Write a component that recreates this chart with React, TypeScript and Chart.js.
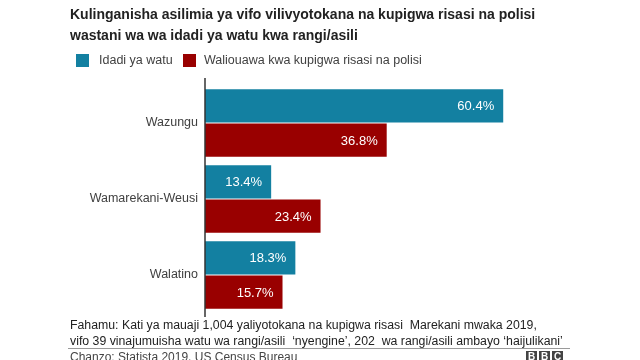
import React, { useEffect, useRef } from "react";
import { Chart, registerables } from "chart.js";

Chart.register(...registerables);

const categories = ["Wazungu", "Wamarekani-Weusi", "Walatino"];
const populationShare = [60.4, 13.4, 18.3];
const policeKillingsShare = [36.8, 23.4, 15.7];
const seriesNames = ["Idadi ya watu", "Waliouawa kwa kupigwa risasi na polisi"];
const titleLines = [
  "Kulinganisha asilimia ya vifo vilivyotokana na kupigwa risasi na polisi",
  "wastani wa wa idadi ya watu kwa rangi/asili",
];
const noteLines = [
  "Fahamu: Kati ya mauaji 1,004 yaliyotokana na kupigwa risasi  Marekani mwaka 2019,",
  "vifo 39 vinajumuisha watu wa rangi/asili  \u2018nyengine\u2019, 202  wa rangi/asili ambayo \u2018haijulikani\u2019",
];
const sourceText = "Chanzo: Statista 2019, US Census Bureau";

const BLUE = "#1380A1";
const RED = "#990000";
const FONT = "'Liberation Sans', Arial, Helvetica, sans-serif";

const labelPlugin = {
  id: "barLabels",
  afterDatasetsDraw(chart: any) {
    const ctx = chart.ctx;
    ctx.save();
    ctx.font = `13px ${FONT}`;
    ctx.fillStyle = "#ffffff";
    ctx.textAlign = "right";
    ctx.textBaseline = "middle";
    chart.data.datasets.forEach((ds: any, i: number) => {
      const meta = chart.getDatasetMeta(i);
      meta.data.forEach((bar: any, j: number) => {
        ctx.fillText(ds.data[j].toFixed(1) + "%", bar.x - 9, bar.y + 1);
      });
    });
    ctx.restore();
  },
  afterDraw(chart: any) {
    const { ctx, chartArea } = chart;
    ctx.save();
    ctx.strokeStyle = "#333333";
    ctx.lineWidth = 1.5;
    ctx.beginPath();
    ctx.moveTo(chartArea.left, chartArea.top - 7);
    ctx.lineTo(chartArea.left, chartArea.bottom + 4);
    ctx.stroke();
    ctx.restore();
  },
};

export default function App() {
  const ref = useRef<HTMLCanvasElement>(null);
  useEffect(() => {
    if (!ref.current) return;
    const chart = new Chart(ref.current, {
      type: "bar",
      data: {
        labels: categories,
        datasets: [
          { label: seriesNames[0], data: populationShare, backgroundColor: BLUE },
          { label: seriesNames[1], data: policeKillingsShare, backgroundColor: RED },
        ],
      },
      options: {
        indexAxis: "y",
        animation: false,
        responsive: false,
        layout: { padding: { top: 85, bottom: 47, left: 0, right: 40 } },
        datasets: { bar: { categoryPercentage: 0.9, barPercentage: 0.97 } },
        plugins: { legend: { display: false }, tooltip: { enabled: false } },
        scales: {
          x: { display: false, min: 0, max: 80 },
          y: {
            afterFit: (scale: any) => {
              scale.width = 205;
            },
            grid: { display: false, drawTicks: false },
            border: { display: false },
            ticks: { color: "#404040", font: { family: FONT, size: 12.5 }, padding: 7 },
          },
        },
      },
      plugins: [labelPlugin],
    });
    return () => chart.destroy();
  }, []);

  const text = (style: React.CSSProperties, content: string, key?: any) => (
    <div key={key} style={{ position: "absolute", whiteSpace: "pre", fontFamily: FONT, ...style }}>
      {content}
    </div>
  );

  return (
    <div style={{ position: "fixed", left: 0, top: 0, width: 640, height: 360, background: "#fff", overflow: "hidden" }}>
      <canvas ref={ref} width={640} height={360} style={{ position: "absolute", left: 0, top: 0 }} />
      {titleLines.map((t, i) =>
        text({ left: 70, top: 4 + i * 21, fontSize: 14, fontWeight: "bold", color: "#222", lineHeight: "20px" }, t, "t" + i)
      )}
      <div style={{ position: "absolute", left: 76, top: 54, width: 13, height: 13, background: BLUE }} />
      {text({ left: 99, top: 52, fontSize: 12.5, color: "#404040", lineHeight: "17px" }, seriesNames[0])}
      <div style={{ position: "absolute", left: 183, top: 54, width: 13, height: 13, background: RED }} />
      {text({ left: 204, top: 52, fontSize: 12.5, color: "#404040", lineHeight: "17px" }, seriesNames[1])}
      {noteLines.map((t, i) =>
        text({ left: 70, top: 317 + i * 16, fontSize: 12.3, color: "#222", lineHeight: "16px" }, t, "n" + i)
      )}
      <div style={{ position: "absolute", left: 68, top: 348, width: 502, height: 1, background: "#9a9a9a" }} />
      {text({ left: 70, top: 350, fontSize: 12, color: "#444", lineHeight: "14px" }, sourceText)}
      <div style={{ position: "absolute", left: 526, top: 351, display: "flex", gap: 2 }}>
        {["B", "B", "C"].map((c, i) => (
          <div
            key={i}
            style={{
              width: 11,
              height: 11,
              background: "#444",
              color: "#fff",
              fontFamily: FONT,
              fontWeight: "bold",
              fontSize: 10,
              lineHeight: "11px",
              textAlign: "center",
            }}
          >
            {c}
          </div>
        ))}
      </div>
    </div>
  );
}
